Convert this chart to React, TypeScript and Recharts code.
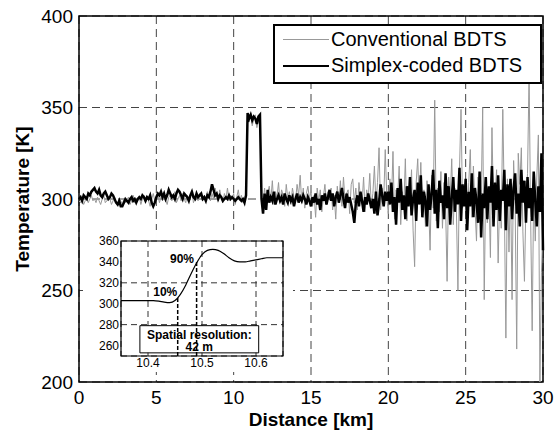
import React from 'react';
import { LineChart, Line, XAxis, YAxis, CartesianGrid, ReferenceArea, ReferenceLine, ReferenceDot } from 'recharts';

const FONT = '"Liberation Sans", Arial, Helvetica, sans-serif';

// main plot: one reading every 0.1 km, 0.0 .. 30.0 km
const STEP_KM = 0.1;

const conventional = [
  299, 298, 300, 297, 299, 301, 298, 300, 302, 299,
  300, 298, 301, 299, 297, 300, 302, 298, 299, 301,
  300, 297, 299, 301, 298, 296, 300, 299, 297, 300,
  298, 300, 301, 297, 299, 302, 298, 300, 299, 301,
  297, 300, 302, 298, 301, 299, 296, 300, 303, 299,
  300, 302, 298, 301, 299, 303, 300, 297, 301, 302,
  299, 301, 304, 298, 300, 302, 299, 303, 300, 298,
  302, 299, 301, 304, 298, 300, 302, 299, 303, 301,
  299, 302, 300, 304, 301, 299, 303, 300, 306, 302,
  299, 305, 301, 298, 303, 300, 306, 299, 302, 300,
  303, 297, 301, 305, 299, 302, 298, 300, 303, 345,
  342, 347, 340, 344, 346, 339, 343, 345, 303, 298,
  306, 296, 303, 307, 299, 310, 297, 304, 301, 309,
  298, 305, 302, 296, 308, 300, 304, 297, 306, 301,
  299, 308, 302, 313, 298, 306, 295, 303, 307, 300,
  304, 296, 302, 290, 306, 299, 305, 293, 301, 308,
  297, 304, 300, 306, 294, 302, 289, 307, 298, 310,
  296, 312, 299, 303, 305, 292, 308, 311, 298, 306,
  294, 309, 301, 297, 312, 293, 305, 300, 314, 296,
  303, 318, 297, 309, 328, 294, 306, 299, 327, 301,
  292, 311, 298, 326, 289, 305, 300, 318, 286, 304,
  295, 322, 288, 307, 299, 316, 283, 263, 309, 322,
  297, 320, 292, 305, 285, 310, 298, 272, 313, 295,
  354, 288, 306, 293, 315, 284, 309, 297, 255, 312,
  300, 322, 286, 306, 294, 250, 316, 349, 295, 303,
  306, 283, 309, 327, 290, 318, 296, 277, 312, 289,
  298, 350, 245, 311, 287, 306, 268, 339, 294, 300,
  316, 265, 302, 284, 349, 297, 224, 311, 271, 308,
  245, 321, 296, 218, 325, 308, 328, 282, 255, 300,
  314, 368, 290, 228, 306, 277, 312, 335, 200, 260,
  285,
];

const simplexCoded = [
  300, 301, 299, 302, 301, 300, 303, 302, 304, 305,
  306, 304, 303, 305, 302, 301, 303, 304, 302, 300,
  301, 303, 302, 300, 298, 297, 299, 296, 296, 298,
  300, 299, 298, 300, 301, 299, 300, 298, 300, 301,
  300, 302, 301, 299, 301, 300, 302, 298, 296, 298,
  301, 303, 302, 304, 301, 303, 300, 302, 305, 303,
  301, 302, 300, 303, 305, 304, 302, 300, 303, 302,
  301, 299, 302, 304, 301, 300, 303, 301, 302, 303,
  300, 301, 299, 302, 301, 304, 308, 305, 302, 303,
  300, 302, 301, 299, 300, 301, 300, 302, 300, 301,
  300, 299, 300, 301, 300, 299, 300, 298, 302, 347,
  344, 346, 343, 345, 344, 341, 345, 346, 300, 292,
  303, 294, 305, 298, 301, 299, 304, 297, 300, 302,
  299, 301, 297, 303, 300, 298, 302, 299, 301, 296,
  300, 303, 298, 301, 299, 302, 300, 297, 301, 299,
  296, 301, 298, 303, 297, 300, 294, 302, 299, 303,
  297, 301, 305, 299, 303, 296, 301, 304, 298, 302,
  306, 300, 295, 303, 298, 301, 297, 293, 287, 298,
  302, 296, 304, 299, 293, 301, 297, 303, 299, 295,
  300, 292, 304, 291, 298, 308, 302, 296, 304, 299,
  304, 297, 309, 293, 301, 286, 306, 298, 311, 294,
  302, 289, 307, 296, 312, 291, 300, 305, 288, 309,
  297, 313, 290, 304, 299, 285, 308, 294, 303, 316,
  292, 305, 284, 310, 298, 302, 289, 314, 295, 307,
  286, 301, 312, 293, 305, 297, 317, 288, 308, 296,
  311, 283, 304, 296, 314, 290, 306, 299, 287, 315,
  279, 303, 295, 312, 289, 307, 298, 318, 285, 309,
  294, 313, 288, 305, 299, 316, 283, 308, 296, 311,
  289, 306, 314, 292, 303, 285, 316, 298, 310, 287,
  312, 295, 306, 288, 315, 299, 285, 307, 293, 325,
  272,
];

const X_TICKS = [0, 5, 10, 15, 20, 25, 30];
const Y_TICKS = [200, 250, 300, 350, 400];

// inset: rising edge of the hot spot
const insetDistance = [
  10.35, 10.36, 10.37, 10.38, 10.39, 10.40, 10.41, 10.42, 10.43, 10.44,
  10.45, 10.46, 10.47, 10.48, 10.49, 10.50, 10.51, 10.52, 10.53, 10.54,
  10.55, 10.56, 10.57, 10.58, 10.59, 10.60, 10.61, 10.62, 10.63, 10.64, 10.65,
];
const insetTemp = [
  303, 303, 303, 303, 303, 303, 303, 302.5, 301.5, 301,
  303, 309, 318, 329, 339, 347, 351, 352, 351, 348,
  344, 341, 340, 340, 341, 342, 343, 344, 344, 344, 344,
];
const INSET_X_TICKS = [10.4, 10.5, 10.6];
const INSET_Y_TICKS = [260, 280, 300, 320, 340, 360];
const P10 = { x: 10.455, y: 306 };
const P90 = { x: 10.49, y: 340 };

const mainData = conventional.map((c, i) => ({
  d: Math.round(i * STEP_KM * 10) / 10,
  conv: c,
  simplex: simplexCoded[i],
}));
const insetData = insetDistance.map((d, i) => ({ d, t: insetTemp[i] }));

const YTitle = ({ viewBox }: any) => {
  const x = viewBox.x + 22;
  const y = viewBox.y + viewBox.height / 2;
  return (
    <text x={x} y={y} transform={`rotate(-90 ${x} ${y})`} textAnchor="middle" dominantBaseline="central"
      fontFamily={FONT} fontSize={19} fontWeight="bold" fill="#000">
      Temperature [K]
    </text>
  );
};

const XTitle = ({ viewBox }: any) => (
  <text x={viewBox.x + viewBox.width / 2} y={viewBox.y + 37} textAnchor="middle" dominantBaseline="central"
    fontFamily={FONT} fontSize={19} fontWeight="bold" fill="#000">
    Distance [km]
  </text>
);

const ResolutionLabel = ({ viewBox }: any) => {
  const cx = viewBox.x + viewBox.width / 2;
  return (
    <g fontFamily={FONT} fontSize={12} fontWeight="bold" fill="#000" textAnchor="middle">
      <text x={cx} y={viewBox.y + viewBox.height * 0.33} dominantBaseline="central">Spatial resolution:</text>
      <text x={cx} y={viewBox.y + viewBox.height * 0.8} dominantBaseline="central">42 m</text>
    </g>
  );
};

function Inset() {
  return (
    <div style={{ position: 'absolute', left: 83, top: 230, width: 210, height: 142, background: '#fff' }}>
      <LineChart width={210} height={142} data={insetData} margin={{ top: 11, right: 10, bottom: 0, left: 0 }}>
        <CartesianGrid stroke="#333" strokeDasharray="6 4" />
        <XAxis type="number" dataKey="d" domain={[10.35, 10.65]} ticks={INSET_X_TICKS} height={16}
          tickSize={0} tickMargin={2} axisLine={false} tick={{ fill: '#000', fontSize: 12, fontFamily: FONT }} />
        <YAxis type="number" domain={[250, 360]} ticks={INSET_Y_TICKS} width={38} tickSize={0} tickMargin={2}
          axisLine={false} tick={{ fill: '#000', fontSize: 12, fontFamily: FONT }} />
        <ReferenceLine segment={[{ x: P10.x, y: 250 }, { x: P10.x, y: P10.y }]} stroke="#000" strokeWidth={1.5} strokeDasharray="4 2" />
        <ReferenceLine segment={[{ x: P90.x, y: 250 }, { x: P90.x, y: P90.y }]} stroke="#000" strokeWidth={1.5} strokeDasharray="4 2" />
        <Line type="monotone" dataKey="t" stroke="#000" strokeWidth={1.2} dot={false} isAnimationActive={false} />
        <ReferenceDot x={10.432} y={311} r={0} stroke="none"
          label={{ value: '10%', position: 'center', fontSize: 12, fontWeight: 'bold', fill: '#000', fontFamily: FONT }} />
        <ReferenceDot x={10.463} y={343} r={0} stroke="none"
          label={{ value: '90%', position: 'center', fontSize: 12, fontWeight: 'bold', fill: '#000', fontFamily: FONT }} />
        <ReferenceArea x1={10.385} x2={10.605} y1={253} y2={279} fill="#fff" fillOpacity={1} stroke="#000"
          strokeWidth={1} label={<ResolutionLabel />} />
        <ReferenceArea x1={10.35} x2={10.65} y1={250} y2={360} fill="none" stroke="#000" strokeWidth={1.2} />
      </LineChart>
    </div>
  );
}

function LegendBox() {
  const row = (color: string, w: number, text: string) => (
    <div style={{ display: 'flex', alignItems: 'center', height: 26.5 }}>
      <div style={{ width: 46, height: 0, borderTop: `${w}px solid ${color}`, marginRight: 2 }} />
      <span>{text}</span>
    </div>
  );
  return (
    <div style={{
      position: 'absolute', left: 273, top: 24, width: 257, height: 56, border: '2px solid #000',
      background: '#fff', fontFamily: FONT, fontSize: 20, color: '#000', padding: '0 0 0 8px', boxSizing: 'content-box',
    }}>
      {row('#999', 1, 'Conventional BDTS')}
      {row('#000', 2.5, 'Simplex-coded BDTS')}
    </div>
  );
}

export default function App() {
  return (
    <div style={{ position: 'absolute', left: 0, top: 0, width: 556, height: 431, background: '#fff' }}>
      <LineChart width={556} height={431} data={mainData} margin={{ top: 16, right: 13, bottom: 0, left: 0 }}>
        <CartesianGrid stroke="#444" strokeDasharray="8 5" />
        <XAxis type="number" dataKey="d" domain={[0, 30]} ticks={X_TICKS} height={49} tickSize={0} tickMargin={9}
          axisLine={false} tick={{ fill: '#000', fontSize: 19, fontFamily: FONT }} label={<XTitle />} />
        <YAxis type="number" domain={[200, 400]} ticks={Y_TICKS} width={79} tickSize={0} tickMargin={6}
          axisLine={false} allowDataOverflow tick={{ fill: '#000', fontSize: 19, fontFamily: FONT }} label={<YTitle />} />
        <Line type="linear" dataKey="conv" stroke="#999" strokeWidth={1} dot={false} isAnimationActive={false} />
        <Line type="linear" dataKey="simplex" stroke="#000" strokeWidth={2.5} dot={false} isAnimationActive={false} />
        <ReferenceArea x1={0} x2={30} y1={200} y2={400} fill="none" stroke="#000" strokeWidth={1.5} />
      </LineChart>
      <LegendBox />
      <Inset />
    </div>
  );
}
